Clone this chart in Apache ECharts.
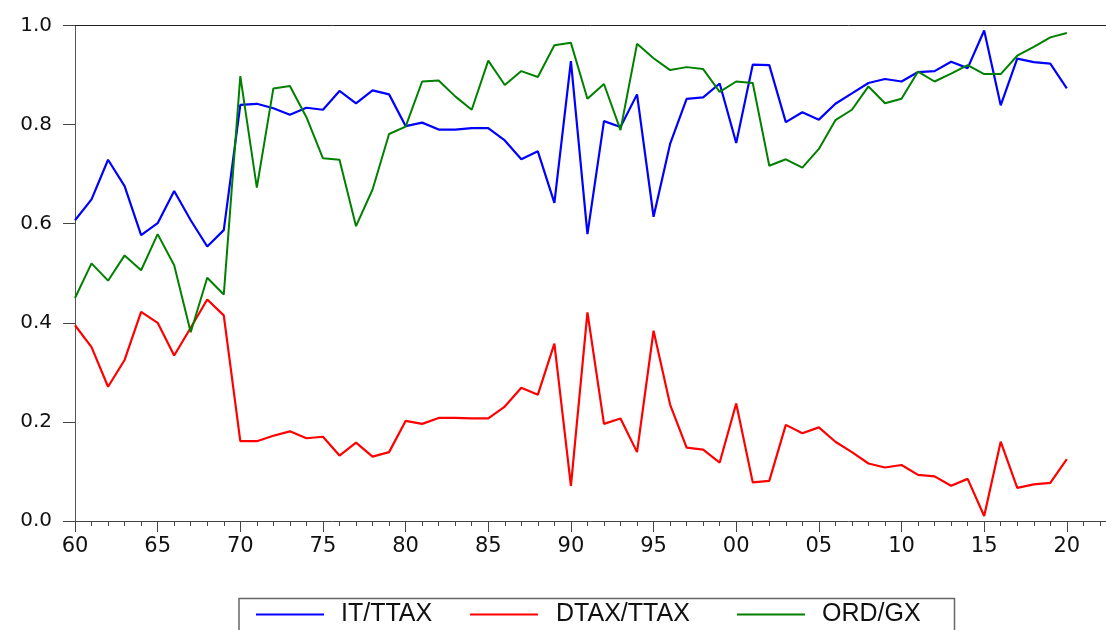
<!DOCTYPE html>
<html>
<head>
<meta charset="utf-8">
<script src="https://cdn.jsdelivr.net/npm/echarts@6/dist/echarts.min.js"></script>
<style>
html,body{margin:0;padding:0;background:#fff;}
#chart{width:1106px;height:630px;}
</style>
</head>
<body>
<div id="chart"></div>
<script>
const years = [1960,1961,1962,1963,1964,1965,1966,1967,1968,1969,
  1970,1971,1972,1973,1974,1975,1976,1977,1978,1979,
  1980,1981,1982,1983,1984,1985,1986,1987,1988,1989,
  1990,1991,1992,1993,1994,1995,1996,1997,1998,1999,
  2000,2001,2002,2003,2004,2005,2006,2007,2008,2009,
  2010,2011,2012,2013,2014,2015,2016,2017,2018,2019,2020];

const itTtax = [0.607,0.649,0.729,0.676,0.577,0.601,0.666,0.607,0.554,0.587,
  0.840,0.842,0.833,0.820,0.834,0.830,0.868,0.843,0.869,0.861,
  0.797,0.804,0.790,0.790,0.793,0.793,0.768,0.730,0.746,0.642,
  0.928,0.579,0.807,0.795,0.861,0.614,0.761,0.852,0.855,0.883,
  0.763,0.921,0.920,0.805,0.825,0.810,0.842,0.863,0.884,0.892,
  0.887,0.906,0.908,0.927,0.914,0.990,0.839,0.933,0.926,0.923,0.873];

const dtaxTtax = [0.395,0.351,0.271,0.325,0.422,0.400,0.334,0.390,0.447,0.415,
  0.161,0.161,0.172,0.181,0.167,0.170,0.132,0.158,0.130,0.139,
  0.202,0.196,0.208,0.208,0.207,0.207,0.231,0.269,0.255,0.358,
  0.071,0.421,0.196,0.207,0.139,0.384,0.235,0.148,0.144,0.118,
  0.237,0.078,0.081,0.194,0.177,0.189,0.160,0.139,0.116,0.108,
  0.113,0.093,0.090,0.071,0.085,0.010,0.160,0.067,0.074,0.077,0.125];

const ordGx = [0.450,0.520,0.485,0.536,0.506,0.579,0.516,0.381,0.491,0.457,
  0.898,0.673,0.873,0.878,0.815,0.732,0.729,0.595,0.669,0.781,
  0.796,0.887,0.889,0.857,0.830,0.929,0.880,0.908,0.896,0.960,
  0.965,0.852,0.882,0.789,0.963,0.934,0.910,0.916,0.912,0.866,
  0.887,0.884,0.717,0.730,0.713,0.751,0.809,0.830,0.877,0.843,
  0.852,0.907,0.887,0.903,0.920,0.902,0.902,0.939,0.957,0.976,0.985];

const seriesNames = ['IT/TTAX','DTAX/TTAX','ORD/GX'];
const seriesColors = ['#0000ff','#ff0000','#008000'];
const majorYears = [1960,1965,1970,1975,1980,1985,1990,1995,2000,2005,2010,2015,2020];
const xTickLabels = ['60','65','70','75','80','85','90','95','00','05','10','15','20'];
const yTicks = ['0.0','0.2','0.4','0.6','0.8','1.0'];

const X_MIN = 1960, X_MAX = 2022.37;
const minorYears = [];
for (let y = 1960; y <= 2022; y++) minorYears.push(y);

const pairs = arr => years.map((y,i)=>[y,arr[i]]);

const chart = echarts.init(document.getElementById('chart'), null, {renderer:'canvas'});

const legendBase = (name, left, pad) => ({
  data:[{name:name, icon:'rect'}], left:left, top:602, itemWidth:68, itemHeight:2,
  padding:0, itemGap:0,
  textStyle:{fontFamily:'Liberation Sans', fontSize:25, color:'#111', padding:[0,0,0,pad]}
});

chart.setOption({
  animation:false,
  backgroundColor:'#ffffff',
  grid:{left:75, top:25.5, right:0, height:495.5, show:false, containLabel:false},
  xAxis:[{
    type:'value', min:X_MIN, max:X_MAX, position:'bottom',
    axisLine:{show:true, lineStyle:{color:'#444', width:1}},
    axisTick:{show:true, inside:false, length:11, customValues:majorYears, lineStyle:{color:'#444'}},
    splitLine:{show:false},
    axisLabel:{margin:15, fontFamily:'DejaVu Sans', fontSize:21, color:'#111', customValues:majorYears,
      showMinLabel:true, showMaxLabel:true,
      formatter:v => xTickLabels[majorYears.indexOf(Math.round(v))] || ''}
  },{
    type:'value', min:X_MIN, max:X_MAX, position:'bottom', offset:0,
    axisLine:{show:false},
    axisTick:{show:true, inside:false, length:5, customValues:minorYears, lineStyle:{color:'#444'}},
    splitLine:{show:false},
    axisLabel:{show:false}
  },{
    type:'value', min:X_MIN, max:X_MAX, position:'top', offset:0,
    axisLine:{show:true, lineStyle:{color:'#222', width:1}},
    axisTick:{show:false}, splitLine:{show:false}, axisLabel:{show:false}
  }],
  yAxis:{
    type:'value', min:0, max:1, interval:0.2,
    axisLine:{show:true, lineStyle:{color:'#555', width:1}},
    axisTick:{show:true, inside:false, length:12, lineStyle:{color:'#444'}},
    splitLine:{show:false},
    axisLabel:{margin:23, fontFamily:'DejaVu Sans', fontSize:20, color:'#111',
      formatter:v => yTicks[Math.round(v/0.2)]}
  },
  legend:[
    legendBase(seriesNames[0], 256, 12),
    legendBase(seriesNames[1], 470, 13),
    legendBase(seriesNames[2], 737, 12)
  ],
  graphic:[{
    type:'rect', left:236.5, top:596, silent:true,
    shape:{width:715.5, height:60},
    style:{fill:'none', stroke:'#666', lineWidth:1.5}
  }],
  series:[
    {name:seriesNames[0], type:'line', xAxisIndex:0, data:pairs(itTtax), symbol:'none', color:seriesColors[0],
      lineStyle:{width:2.2, color:seriesColors[0]}},
    {name:seriesNames[1], type:'line', xAxisIndex:0, data:pairs(dtaxTtax), symbol:'none', color:seriesColors[1],
      lineStyle:{width:2.2, color:seriesColors[1]}},
    {name:seriesNames[2], type:'line', xAxisIndex:0, data:pairs(ordGx), symbol:'none', color:seriesColors[2],
      lineStyle:{width:2, color:seriesColors[2]}}
  ]
});
</script>
</body>
</html>
